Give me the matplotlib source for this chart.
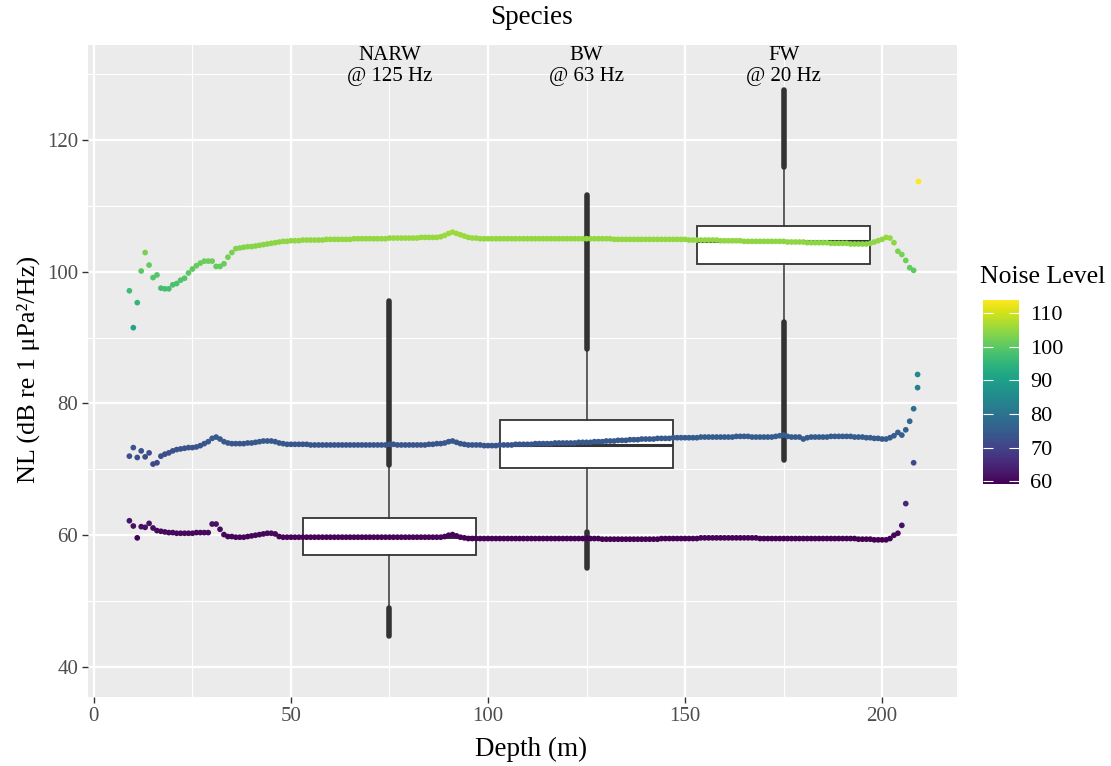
import numpy as np
import matplotlib
matplotlib.use('Agg')
import matplotlib.pyplot as plt
from matplotlib.colors import Normalize
from matplotlib.cm import ScalarMappable

plt.rcParams['font.family'] = ['Liberation Serif', 'DejaVu Serif']

# ---------------- data ----------------
# Upper series (20 Hz band), depth 9..208 m
depth_hi = np.arange(9, 209)
nl_hi = [
    97.1, 91.5, 95.3, 100.1, 102.9, 101.0, 99.1, 99.5, 97.5, 97.4,
    97.4, 98.0, 98.2, 98.7, 99.0, 99.8, 100.4, 100.9, 101.3, 101.6,
    101.6, 101.6, 100.8, 100.8, 101.2, 102.2, 102.9, 103.5, 103.6, 103.7,
    103.8, 103.8, 103.9, 104.0, 104.1, 104.2, 104.3, 104.4, 104.5, 104.6,
    104.6, 104.7, 104.7, 104.7, 104.8, 104.8, 104.8, 104.8, 104.8, 104.8,
    104.9, 104.9, 104.9, 104.9, 104.9, 104.9, 104.9, 105.0, 105.0, 105.0,
    105.0, 105.0, 105.0, 105.0, 105.0, 105.0, 105.1, 105.1, 105.1, 105.1,
    105.1, 105.1, 105.1, 105.1, 105.2, 105.2, 105.2, 105.2, 105.2, 105.3,
    105.5, 105.8, 106.0, 105.8, 105.6, 105.4, 105.2, 105.1, 105.1, 105.0,
    105.0, 105.0, 105.0, 105.0, 105.0, 105.0, 105.0, 105.0, 105.0, 105.0,
    105.0, 105.0, 105.0, 105.0, 105.0, 105.0, 105.0, 105.0, 105.0, 105.0,
    105.0, 105.0, 105.0, 105.0, 105.0, 105.0, 105.0, 105.0, 105.0, 105.0,
    105.0, 105.0, 105.0, 104.9, 104.9, 104.9, 104.9, 104.9, 104.9, 104.9,
    104.9, 104.9, 104.9, 104.9, 104.9, 104.9, 104.9, 104.9, 104.9, 104.9,
    104.9, 104.9, 104.8, 104.8, 104.8, 104.8, 104.8, 104.8, 104.8, 104.8,
    104.7, 104.7, 104.7, 104.7, 104.7, 104.7, 104.6, 104.6, 104.6, 104.6,
    104.6, 104.6, 104.6, 104.6, 104.6, 104.6, 104.6, 104.5, 104.5, 104.5,
    104.5, 104.5, 104.4, 104.4, 104.4, 104.4, 104.4, 104.4, 104.3, 104.3,
    104.3, 104.3, 104.3, 104.2, 104.2, 104.2, 104.2, 104.2, 104.3, 104.5,
    104.7, 104.9, 105.2, 105.1, 104.4, 103.1, 102.6, 101.7, 100.6, 100.2,
]
extra_hi_depth = [209]
extra_hi_nl = [113.8]

# Middle series (63 Hz band), depth 9..209 m
depth_mid = np.arange(9, 210)
nl_mid = [
    72.0, 73.3, 71.8, 72.8, 71.9, 72.5, 70.8, 71.0, 72.0, 72.3,
    72.5, 72.8, 73.0, 73.1, 73.2, 73.3, 73.3, 73.4, 73.6, 73.9,
    74.2, 74.7, 74.9, 74.6, 74.2, 74.0, 73.9, 73.9, 73.9, 73.9,
    74.0, 74.0, 74.1, 74.2, 74.3, 74.3, 74.3, 74.2, 74.0, 73.9,
    73.8, 73.8, 73.8, 73.8, 73.8, 73.8, 73.7, 73.7, 73.7, 73.7,
    73.7, 73.7, 73.7, 73.7, 73.7, 73.7, 73.7, 73.7, 73.7, 73.7,
    73.7, 73.7, 73.7, 73.7, 73.7, 73.7, 73.8, 73.8, 73.7, 73.7,
    73.7, 73.7, 73.7, 73.7, 73.7, 73.7, 73.8, 73.8, 73.9, 73.9,
    74.0, 74.2, 74.3, 74.1, 73.9, 73.8, 73.7, 73.7, 73.7, 73.7,
    73.6, 73.6, 73.6, 73.6, 73.7, 73.7, 73.7, 73.7, 73.8, 73.8,
    73.8, 73.8, 73.8, 73.9, 73.9, 73.9, 73.9, 73.9, 74.0, 74.0,
    74.0, 74.0, 74.0, 74.0, 74.1, 74.1, 74.1, 74.1, 74.2, 74.2,
    74.2, 74.3, 74.3, 74.3, 74.4, 74.4, 74.4, 74.5, 74.5, 74.5,
    74.6, 74.6, 74.6, 74.6, 74.7, 74.7, 74.7, 74.7, 74.8, 74.8,
    74.8, 74.8, 74.8, 74.8, 74.8, 74.9, 74.9, 74.9, 74.9, 74.9,
    74.9, 74.9, 74.9, 74.9, 75.0, 75.0, 75.0, 75.0, 74.9, 74.9,
    74.9, 74.9, 74.9, 74.9, 75.0, 75.1, 75.2, 75.0, 74.9, 74.9,
    74.9, 74.6, 74.8, 74.9, 74.9, 74.9, 74.9, 74.9, 75.0, 75.0,
    75.0, 75.0, 75.0, 75.0, 74.9, 74.9, 74.9, 74.8, 74.8, 74.7,
    74.7, 74.6, 74.6, 74.8, 75.1, 75.6, 75.2, 76.0, 77.3, 79.2,
    82.4,
]
extra_mid_depth = [208, 209]
extra_mid_nl = [71.0, 84.4]

# Lower series (125 Hz band), depth 9..206 m
depth_lo = np.arange(9, 207)
nl_lo = [
    62.2, 61.4, 59.6, 61.3, 61.2, 61.8, 61.1, 60.7, 60.6, 60.5,
    60.4, 60.4, 60.3, 60.3, 60.3, 60.3, 60.3, 60.4, 60.4, 60.4,
    60.4, 61.7, 61.7, 60.9, 60.1, 59.8, 59.8, 59.7, 59.7, 59.7,
    59.8, 59.9, 60.0, 60.1, 60.2, 60.3, 60.3, 60.2, 59.8, 59.7,
    59.7, 59.7, 59.7, 59.7, 59.7, 59.7, 59.7, 59.7, 59.7, 59.7,
    59.7, 59.7, 59.7, 59.7, 59.7, 59.7, 59.7, 59.7, 59.7, 59.7,
    59.7, 59.7, 59.7, 59.7, 59.7, 59.7, 59.7, 59.7, 59.7, 59.7,
    59.7, 59.7, 59.7, 59.7, 59.7, 59.7, 59.7, 59.7, 59.7, 59.7,
    59.8, 60.0, 60.1, 59.9, 59.7, 59.6, 59.5, 59.5, 59.5, 59.5,
    59.5, 59.5, 59.5, 59.5, 59.5, 59.5, 59.5, 59.5, 59.5, 59.5,
    59.5, 59.5, 59.5, 59.5, 59.5, 59.5, 59.5, 59.5, 59.5, 59.5,
    59.5, 59.5, 59.5, 59.5, 59.5, 59.5, 59.5, 59.5, 59.5, 59.5,
    59.4, 59.4, 59.4, 59.4, 59.4, 59.4, 59.4, 59.4, 59.4, 59.4,
    59.4, 59.4, 59.4, 59.4, 59.4, 59.5, 59.5, 59.5, 59.5, 59.5,
    59.5, 59.5, 59.5, 59.5, 59.5, 59.6, 59.6, 59.6, 59.6, 59.6,
    59.6, 59.6, 59.6, 59.6, 59.6, 59.6, 59.6, 59.6, 59.6, 59.6,
    59.5, 59.5, 59.5, 59.5, 59.5, 59.5, 59.5, 59.5, 59.5, 59.5,
    59.5, 59.5, 59.5, 59.5, 59.5, 59.5, 59.5, 59.5, 59.5, 59.5,
    59.5, 59.5, 59.5, 59.5, 59.5, 59.4, 59.4, 59.4, 59.4, 59.3,
    59.3, 59.3, 59.3, 59.5, 60.0, 60.3, 61.5, 64.8,
]

# Box plots per species
species_pos = [75, 125, 175]
species_labels = ['NARW\n@ 125 Hz', 'BW\n@ 63 Hz', 'FW\n@ 20 Hz']
box_q1 = [57.0, 70.2, 101.1]
box_med = [59.75, 73.7, 104.7]
box_q3 = [62.6, 77.5, 107.0]
whisk_lo = [48.9, 61.0, 92.3]
whisk_hi = [70.6, 87.9, 115.9]
out_lo_min = [44.7, 55.0, 71.4]
out_lo_max = [48.9, 60.5, 92.3]
out_hi_min = [70.6, 88.2, 115.9]
out_hi_max = [95.5, 111.7, 127.6]

cbar_ticks = [60, 70, 80, 90, 100, 110]
nl_min, nl_max = 59.2, 113.8

# ---------------- figure ----------------
W, H = 1111, 766
fig = plt.figure(figsize=(W / 100, H / 100), dpi=100)
L, R, T, B = 88, 957, 45, 697
ax = fig.add_axes([L / W, 1 - B / H, (R - L) / W, (B - T) / H])
ax.set_facecolor('#EBEBEB')
for s in ax.spines.values():
    s.set_visible(False)
ax.set_xlim(-1.5, 219)
ax.set_ylim(35.45, 134.4)
ax.set_xticks([0, 50, 100, 150, 200])
ax.set_yticks([40, 60, 80, 100, 120])
ax.set_xticks([25, 75, 125, 175], minor=True)
ax.set_yticks([50, 70, 90, 110, 130], minor=True)
ax.grid(which='major', color='white', lw=1.6)
ax.grid(which='minor', color='white', lw=0.8)
ax.set_axisbelow(True)
ax.tick_params(which='minor', length=0)
ax.tick_params(which='major', length=4, width=1.0, color='#333333',
               labelcolor='#4D4D4D', labelsize=15, pad=3)

stats = []
for i in range(3):
    stats.append(dict(q1=box_q1[i], med=box_med[i], q3=box_q3[i],
                      whislo=whisk_lo[i], whishi=whisk_hi[i], fliers=[]))
ax.bxp(stats, positions=species_pos, widths=44, patch_artist=True,
       showfliers=False, showcaps=False, manage_ticks=False,
       boxprops=dict(facecolor='white', edgecolor='#333333', lw=1.3),
       medianprops=dict(color='#333333', lw=2.2),
       whiskerprops=dict(color='#333333', lw=1.1), zorder=2)
lc1 = ax.vlines(species_pos, out_lo_min, out_lo_max, color='#333333', lw=4, zorder=2)
lc2 = ax.vlines(species_pos, out_hi_min, out_hi_max, color='#333333', lw=4, zorder=2)
lc1.set_capstyle('round')
lc2.set_capstyle('round')

norm = Normalize(nl_min, nl_max)
cmap = plt.get_cmap('viridis')
for d, v in [(depth_lo, nl_lo), (depth_mid, nl_mid), (depth_hi, nl_hi),
             (extra_mid_depth, extra_mid_nl), (extra_hi_depth, extra_hi_nl)]:
    ax.scatter(d, v, c=v, cmap=cmap, norm=norm, s=17, lw=0, zorder=3)

for x, lab in zip(species_pos, species_labels):
    ax.text(x, 134.3, lab, ha='center', va='top', fontsize=15,
            color='black', linespacing=1.15, zorder=4)

cx = 531 / W
fig.text(cx, 1 - 18 / H, 'Species', ha='center', va='center', fontsize=19.5)
fig.text(cx, 1 - 749 / H, 'Depth (m)', ha='center', va='center', fontsize=19.5)
fig.text(28 / W, 1 - 369 / H, 'NL (dB re 1 μPa²/Hz)', ha='center', va='center',
         rotation=90, fontsize=18.8)

# colorbar
cax = fig.add_axes([983 / W, 1 - 484 / H, 36 / W, 184 / H])
sm = ScalarMappable(norm=norm, cmap=cmap)
cb = fig.colorbar(sm, cax=cax)
cb.outline.set_visible(False)
cb.set_ticks(cbar_ticks)
cax.tick_params(direction='in', color='white', length=7, width=0.8,
                left=True, right=True, labelleft=False, labelright=True,
                labelsize=16, pad=8)
fig.text(980 / W, 1 - 277 / H, 'Noise Level', ha='left', va='center', fontsize=18.5)

fig.savefig('out.png', dpi=100)
